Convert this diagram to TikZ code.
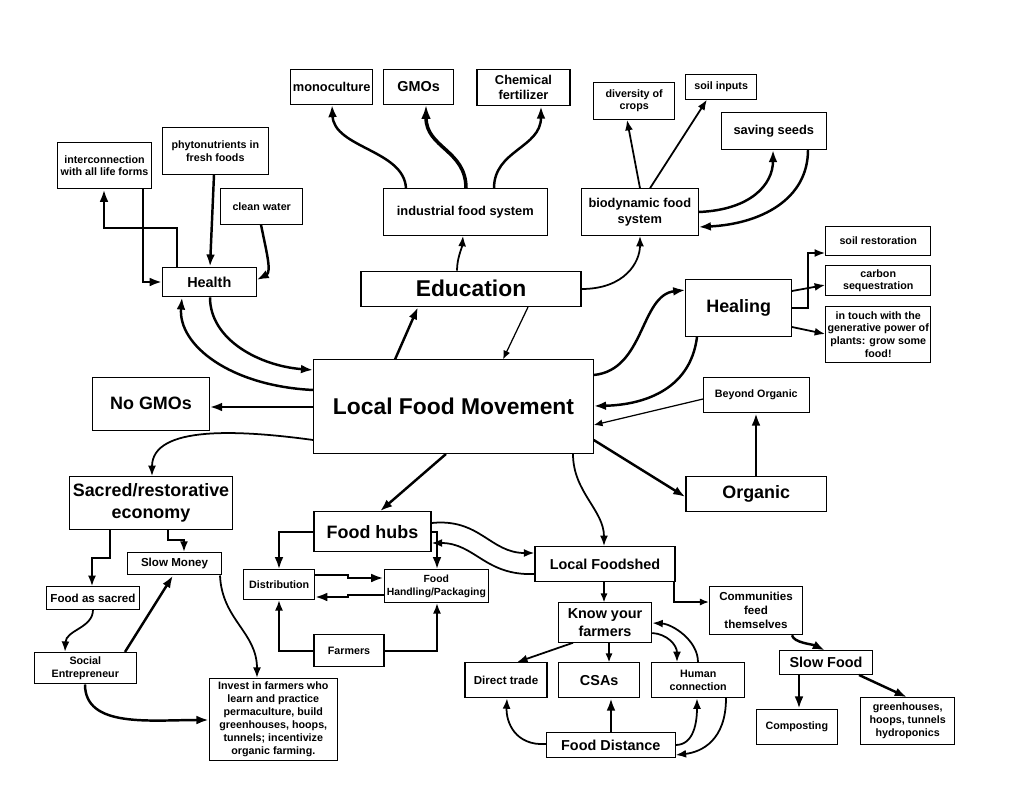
\documentclass[tikz,border=0pt]{standalone}
\usepackage{fontspec}
\setmainfont{Liberation Sans}
\usetikzlibrary{arrows.meta}

\begin{document}
\begin{tikzpicture}[x=0.02cm, y=-0.02cm,
        box/.style={draw, line width=0.6pt, align=center, inner sep=1pt},
        f13/.style={font=\bfseries\fontsize{13}{15.5}\selectfont},
        f10/.style={font=\bfseries\fontsize{10.2}{12.6}\selectfont},
        f8/.style={font=\bfseries\fontsize{8.2}{10}\selectfont},
        f7/.style={font=\bfseries\fontsize{7.3}{9}\selectfont},
        f6/.style={font=\bfseries\fontsize{6.1}{7.3}\selectfont},
        f65/.style={font=\bfseries\fontsize{6.6}{8}\selectfont},
        conn/.style={-{Latex[length=7pt,width=5pt]}, line width=1.4pt},
        mconn/.style={-{Latex[length=6pt,width=4.5pt]}, line width=1pt},
        tconn/.style={-{Latex[length=5pt,width=4pt]}, line width=0.7pt}]
        \useasboundingbox (0,0) rectangle (1024,791);

        \node[box, f13, minimum width=5.59cm, minimum height=1.87cm] (lfm) at (453.5,406.7) {Local Food Movement};
        \node[box, f13, minimum width=4.4cm, minimum height=0.71cm] (edu) at (471,288.8) {Education};
        \node[box, f7, minimum width=3.27cm, minimum height=0.93cm] (ifs) at (465.3,212) {industrial food system};
        \node[box, f7, minimum width=1.64cm, minimum height=0.7cm] (mono) at (331.7,86.8) {monoculture};
        \node[box, f8, minimum width=1.4cm, minimum height=0.7cm] (gmo) at (418.7,86.8) {GMOs};
        \node[box, f7, minimum width=1.86cm, minimum height=0.73cm] (chem) at (523.5,87.5) {Chemical\\fertilizer};
        \node[box, f7, minimum width=2.33cm, minimum height=0.93cm] (bio) at (639.8,212) {biodynamic food\\system};
        \node[box, f6, minimum width=1.63cm, minimum height=0.74cm] (div) at (634.2,100.8) {diversity of\\crops};
        \node[box, f6, minimum width=1.41cm, minimum height=0.49cm] (soilin) at (721.2,86.8) {soil inputs};
        \node[box, f7, minimum width=2.1cm, minimum height=0.74cm] (seeds) at (773.8,130.8) {saving seeds};

        \node[box, f10, minimum width=2.11cm, minimum height=1.15cm] (heal) at (738.7,307.8) {Healing};
        \node[box, f6, minimum width=2.1cm, minimum height=0.57cm] (soilres) at (878.2,241) {soil restoration};
        \node[box, f6, minimum width=2.1cm, minimum height=0.61cm] (carbon) at (878.2,280.7) {carbon\\sequestration};
        \node[box, f6, minimum width=2.1cm, minimum height=1.11cm] (touch) at (878.2,334.5) {in touch with the\\generative power of\\plants: grow some\\food!};
        \node[box, f6, minimum width=2.11cm, minimum height=0.7cm] (beyond) at (756.3,395.2) {Beyond Organic};
        \node[box, f10, minimum width=2.81cm, minimum height=0.7cm] (org) at (756.2,494.2) {Organic};

        \node[box, f10, minimum width=2.33cm, minimum height=1.05cm] (nogmo) at (151,403.8) {No GMOs};
        \node[box, f8, minimum width=1.87cm, minimum height=0.59cm] (health) at (209.3,282) {Health};
        \node[box, f6, minimum width=1.87cm, minimum height=0.93cm] (inter) at (104.5,165.7) {interconnection\\with all life forms};
        \node[box, f6, minimum width=2.11cm, minimum height=0.93cm] (phyto) at (215.3,151) {phytonutrients in\\fresh foods};
        \node[box, f6, minimum width=1.64cm, minimum height=0.71cm] (water) at (261.7,206.3) {clean water};

        \node[box, f10, minimum width=3.27cm, minimum height=1.05cm] (sacred) at (151,503) {Sacred/restorative\\economy};
        \node[box, f65, minimum width=1.87cm, minimum height=0.45cm] (slowmoney) at (174.5,563.7) {Slow Money};
        \node[box, f65, minimum width=1.87cm, minimum height=0.45cm] (fsacred) at (93,598) {Food as sacred};
        \node[box, f6, minimum width=2.05cm, minimum height=0.63cm] (social) at (85.3,668.2) {Social\\Entrepreneur};
        \node[box, f6, minimum width=2.56cm, minimum height=1.63cm] (invest) at (273.3,719.3) {Invest in farmers who\\learn and practice\\permaculture, build\\greenhouses, hoops,\\tunnels; incentivize\\organic farming.};

        \node[box, f10, minimum width=2.34cm, minimum height=0.8cm] (hubs) at (372.5,531.7) {Food hubs};
        \node[box, f6, minimum width=1.41cm, minimum height=0.59cm] (distrib) at (279.2,584.7) {Distribution};
        \node[box, font=\bfseries\fontsize{5.9}{7.2}\selectfont, minimum width=2.09cm, minimum height=0.65cm] (handl) at (436.3,586.2) {Food\\Handling/Packaging};
        \node[box, f6, minimum width=1.4cm, minimum height=0.64cm] (farmers) at (349,650.7) {Farmers};

        \node[box, f8, minimum width=2.8cm, minimum height=0.7cm] (shed) at (605,564.2) {Local Foodshed};
        \node[box, f8, minimum width=1.87cm, minimum height=0.79cm] (know) at (605,622.5) {Know your\\farmers};
        \node[box, f65, minimum width=1.87cm, minimum height=0.96cm] (comm) at (756,610.7) {Communities\\feed\\themselves};
        \node[box, f65, minimum width=1.64cm, minimum height=0.7cm] (direct) at (506,680.2) {Direct trade};
        \node[box, f8, minimum width=1.63cm, minimum height=0.7cm] (csa) at (599.2,680.2) {CSAs};
        \node[box, f6, minimum width=1.86cm, minimum height=0.7cm] (human) at (698.2,680.2) {Human\\connection};
        \node[box, f8, minimum width=2.57cm, minimum height=0.5cm] (fdist) at (610.8,745.2) {Food Distance};
        \node[box, f8, minimum width=1.87cm, minimum height=0.47cm] (slowfood) at (826,662.7) {Slow Food};
        \node[box, f6, minimum width=1.63cm, minimum height=0.7cm] (compost) at (796.8,726.8) {Composting};
        \node[box, f6, minimum width=1.87cm, minimum height=0.93cm] (green) at (907.7,721) {greenhouses,\\hoops, tunnels\\hydroponics};

        % health
        \draw[conn] (inter.south -| 143,0) |- (health.west);
        \draw[conn] (health.north -| 177,0) |- (104,228) -- (inter.south -| 104,0);
        \draw[conn] (phyto.south -| 214,0) -- (health.north -| 210,0);
        \draw[conn] (water.south -| 261,0) .. controls (266,250) and (272,272) .. (health.east |- 0,280);
        \draw[conn] (health.south -| 210,0) .. controls (210,340) and (260,366) .. (lfm.west |- 0,370);
        \draw[conn] (lfm.west |- 0,390) .. controls (230,386) and (178,345) .. (health.south -| 182,0);

        % education
        \draw[conn] (lfm.north -| 395,0) -- (edu.south -| 418,0);
        \draw[tconn] (edu.south -| 528,0) -- (lfm.north -| 503,0);
        \draw[mconn] (edu.north -| 457,0) .. controls (457,258) and (462,248) .. (ifs.south -| 463,0);
        \draw[conn] (ifs.north -| 406,0) .. controls (404,150) and (334,148) .. (mono.south -| 332,0);
        \draw[-{Latex[length=8pt,width=5.5pt]}, line width=2pt] (ifs.north -| 466,0) .. controls (466,150) and (426,148) .. (gmo.south -| 426,0);
        \draw[conn] (ifs.north -| 494,0) .. controls (494,150) and (541,148) .. (chem.south -| 541,0);
        \draw[mconn] (edu.east |- 0,289) .. controls (625,289) and (640,262) .. (bio.south -| 640,0);

        % biodynamic
        \draw[mconn] (bio.north -| 640,0) -- (div.south -| 627,0);
        \draw[mconn] (bio.north -| 650,0) -- (soilin.south -| 707,0);
        \draw[conn] (bio.east |- 0,212) .. controls (750,210) and (773,185) .. (seeds.south -| 773,0);
        \draw[conn] (seeds.south -| 808,0) .. controls (808,200) and (760,224) .. (bio.east |- 0,227);

        % healing
        \draw[conn] (lfm.east |- 0,375) .. controls (645,370) and (640,295) .. (heal.west |- 0,290);
        \draw[conn] (heal.south -| 697,0) .. controls (690,392) and (640,405) .. (lfm.east |- 0,406);
        \draw[mconn] (heal.east |- 0,308) -| (808,253) -- (soilres.west |- 0,253);
        \draw[mconn] (heal.east |- 0,291) -- (carbon.west |- 0,285);
        \draw[mconn] (heal.east |- 0,327) -- (touch.west |- 0,334);

        % organic
        \draw[tconn] (beyond.west |- 0,399) -- (lfm.east |- 0,425);
        \draw[conn] (org.north -| 756,0) -- (beyond.south -| 756,0);
        \draw[conn] (lfm.east |- 0,440) -- (org.west |- 0,497);

        % economy
        \draw[conn] (lfm.west |- 0,407) -- (nogmo.east |- 0,407);
        \draw[mconn] (lfm.west |- 0,440) .. controls (240,430) and (152,425) .. (sacred.north -| 152,0);
        \draw[mconn] (sacred.south -| 168,0) |- (184,540) -- (slowmoney.north -| 184,0);
        \draw[mconn] (sacred.south -| 110,0) |- (92,558) -- (fsacred.north -| 92,0);
        \draw[mconn] (fsacred.south -| 93,0) .. controls (93,628) and (66,630) .. (social.north -| 65,0);
        \draw[conn] (social.north -| 125,0) -- (slowmoney.south -| 173,0);
        \draw[mconn] (slowmoney.south -| 220,0) .. controls (222,620) and (257,632) .. (invest.north -| 257,0);
        \draw[conn] (social.south -| 85,0) .. controls (85,728) and (150,720) .. (invest.west |- 0,720);

        % food hubs
        \draw[conn] (lfm.south -| 446,0) -- (hubs.north -| 380,0);
        \draw[conn] (hubs.west |- 0,532) -| (distrib.north -| 279,0);
        \draw[conn] (hubs.east |- 0,532) -| (handl.north -| 437,0);
        \draw[conn] (distrib.east |- 0,575) -| (348,578) -- (handl.west |- 0,578);
        \draw[conn] (handl.west |- 0,595) -| (348,597) -- (distrib.east |- 0,597);
        \draw[mconn] (farmers.west) -| (distrib.south -| 279,0);
        \draw[mconn] (farmers.east) -| (handl.south -| 437,0);
        \draw[mconn] (hubs.east |- 0,523) .. controls (480,518) and (490,553) .. (shed.west |- 0,553);
        \draw[mconn] (shed.west |- 0,574) .. controls (485,576) and (475,543) .. (hubs.east |- 0,543);

        % foodshed
        \draw[mconn] (lfm.south -| 573,0) .. controls (573,492) and (604,510) .. (shed.north -| 604,0);
        \draw[tconn] (shed.south -| 604,0) -- (know.north -| 604,0);
        \draw[tconn] (shed.south -| 674,0) |- (comm.west |- 0,602);
        \draw[mconn] (know.south -| 573,0) -- (direct.north -| 517,0);
        \draw[tconn] (know.south -| 609,0) -- (csa.north -| 609,0);
        \draw[mconn] (know.east |- 0,633) .. controls (667,634) and (677,645) .. (human.north -| 677,0);
        \draw[mconn] (human.north -| 698,0) .. controls (698,640) and (672,624) .. (know.east |- 0,623);
        \draw[mconn] (fdist.west |- 0,744) .. controls (515,746) and (506,722) .. (direct.south -| 507,0);
        \draw[conn] (fdist.north -| 611,0) -- (csa.south -| 611,0);
        \draw[mconn] (fdist.east |- 0,745) .. controls (694,745) and (697,722) .. (human.south -| 697,0);
        \draw[mconn] (human.south -| 726,0) .. controls (726,740) and (702,752) .. (fdist.east |- 0,755);

        % slow food
        \draw[conn] (comm.south -| 792,0) .. controls (794,643) and (812,644) .. (slowfood.north -| 825,0);
        \draw[conn] (slowfood.south -| 799,0) -- (compost.north -| 799,0);
        \draw[conn] (slowfood.south -| 859,0) -- (green.north -| 907,0);
    \end{tikzpicture}
\end{document}
